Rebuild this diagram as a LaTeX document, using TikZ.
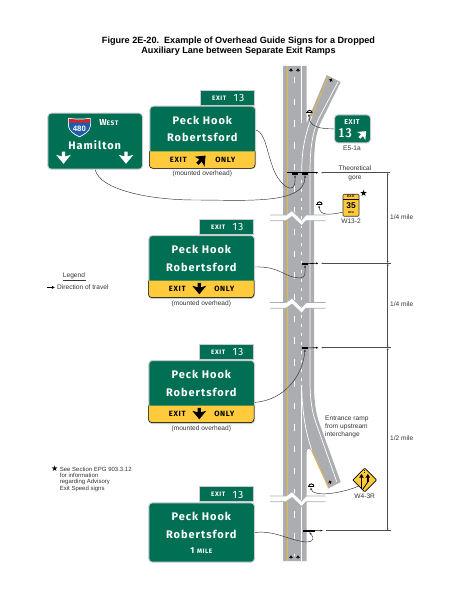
\documentclass[tikz,border=0pt]{standalone}
\usepackage{fontspec}
\setmainfont{Liberation Sans}
\newfontfamily\signfont[LetterSpace=9]{Fira Sans}
\newfontfamily\symfont{DejaVu Sans}
\usetikzlibrary{arrows.meta,shapes.geometric}
\definecolor{ExitGreen}{HTML}{006F54}
\definecolor{SignYellow}{HTML}{FFCB3D}
\definecolor{RoadGray}{HTML}{ABADB0}
\definecolor{RimGray}{HTML}{CBCCCD}
\definecolor{LaneYellow}{HTML}{E9B93C}
\definecolor{ShieldBlue}{HTML}{1C5CA8}
\definecolor{ShieldRed}{HTML}{D2232A}
\tikzset{
  greensign/.style={rectangle,rounded corners=3.5,fill=ExitGreen,draw=RimGray,line width=1,anchor=north west,inner sep=0},
  signtab/.style={rectangle,fill=ExitGreen,draw=RimGray,line width=1,inner sep=0},
  bigtext/.style={text=white,inner sep=0,font=\signfont\bfseries\fontsize{11}{11}\selectfont},
  smalltext/.style={text=white,inner sep=0,font=\signfont\bfseries\fontsize{6.4}{6.4}\selectfont},
  numtext/.style={text=white,inner sep=0,font=\signfont\fontsize{10.5}{10.5}\selectfont},
  bandtext/.style={text=black,inner sep=0,font=\signfont\bfseries\fontsize{7.6}{8}\selectfont},
  labeltext/.style={text=black!80,inner sep=0,font=\fontsize{6.6}{6.6}\selectfont},
  callout/.style={draw=black!80,line width=.45,-{Latex[length=2.6,width=2]}},
  leader/.style={draw=black!70,line width=.5},
  gantry/.style={rectangle,fill=black,inner sep=0,minimum width=6.5,minimum height=1.8},
  postbar/.style={rectangle,fill=black,inner sep=0,minimum width=6,minimum height=1},
  lanewhite/.style={draw=white,line width=.7},
  laneyellow/.style={draw=LaneYellow,line width=.8},
  pics/blockarrow/.style={code={
    \fill[pic actions] (-1.6,-6) -- (1.6,-6) -- (1.6,-1.5) -- (7,-3) -- (0,5.5) -- (-7,-3) -- (-1.6,-1.5) -- cycle;
  }},
  pics/roadbreak/.style={code={
    \fill[white] (270,0) -- (286,0) -- (292,-4.3) -- (301.7,5) -- (306,0) -- (325.6,0) -- (325.6,5.7) -- (306,5.7) -- (301.7,10.7) -- (292,1.5) -- (286,5.7) -- (270,5.7) -- cycle;
    \draw[RoadGray,line width=.7] (270,0) -- (286,0) -- (292,-4.3) -- (301.7,5) -- (306,0) -- (325.6,0);
    \draw[RoadGray,line width=.7] (270,5.7) -- (286,5.7) -- (292,1.5) -- (301.7,10.7) -- (306,5.7) -- (325.6,5.7);
  }},
}
\begin{document}
\begin{tikzpicture}[x=1pt,y=-1pt]
\useasboundingbox (0,0) rectangle (463,599);
\node[align=center,inner sep=0,font=\bfseries\fontsize{9.1}{10.2}\selectfont] (title) at (238.5,46.5)
  {Figure 2E-20.\ \ Example of Overhead Guide Signs for a Dropped\\Auxiliary Lane between Separate Exit Ramps};

% roadway
\fill[RoadGray] (283,66) -- (306.7,66) -- (306.7,123) -- (326.7,75) -- (340.7,82) -- (320,124)
  .. controls (315,136) and (314,150) .. (314,172) -- (314,385)
  .. controls (314,400) and (316,415) .. (320,425) -- (340.7,482) -- (328.3,488.5) -- (311,450)
  .. controls (310,448) and (306.7,448) .. (306.7,452) -- (306.7,561) -- (283,561) -- cycle;
\draw[laneyellow] (287.3,66) -- (287.3,561);
\draw[laneyellow] (328.3,76) -- (312,116);
\draw[laneyellow] (311.7,450) -- (328.3,486.7);
\draw[lanewhite] (301.3,66) -- (301.3,123);
\draw[lanewhite] (301.5,385) -- (301.5,561);
\draw[lanewhite] (312,116) .. controls (305,135) and (301.7,150) .. (301.7,172);
\draw[lanewhite] (301.7,385) .. controls (302,410) and (305,430) .. (311.7,450);
\draw[lanewhite] (338,82) -- (319,118) .. controls (312,133) and (310,150) .. (310,172) -- (310,380)
  .. controls (310,400) and (312,412) .. (316,423) -- (336.7,481.7);
\draw[white,line width=1.2,dash pattern=on 6.5pt off 15.2pt] (294.3,77) -- (294.3,556);
\draw[white,line width=.8,dash pattern=on 3pt off 6pt] (301.7,180) -- (301.7,385);
\foreach \x/\y/\ang in {291/70/180,298/70/180,331/80/149,330/482/199,291/557/180,298/557/180} {
  \pic[fill=black,scale=.3,rotate=\ang] at (\x,\y) {blockarrow};
}
\foreach \y in {215,302.5,496} {
  \pic at (0,\y) {roadbreak};
}

% overhead and post mounts
\node[gantry] (ohAa) at (295,173.8) {};
\node[gantry] (ohAb) at (305,173.8) {};
\node[gantry] (ohB) at (305,263.8) {};
\node[gantry] (ohC) at (305,348) {};
\node[gantry,minimum width=12] (ohD) at (309,531) {};
\node[postbar] (postE) at (309,113) {};
\node[postbar] (postW) at (319,204.5) {};
\node[postbar] (postM) at (310.7,486.5) {};
\foreach \p in {postE,postW,postM} {
  \draw[black,line width=.9] (\p.east) arc[start angle=0,end angle=-180,radius=2.6];
}

% leaders and distances
\coordinate (gapA) at (287,172.7);
\coordinate (gapAr) at (318.5,172.7);
\coordinate (gapB) at (318.5,263.3);
\coordinate (gapC) at (318.5,347.7);
\coordinate (gapD) at (323,530.5);
\coordinate (lineA) at (321,172.7);
\coordinate (lineB) at (321,263.3);
\coordinate (lineC) at (321,347.7);
\coordinate (lineD) at (326,530.7);
\coordinate (endA) at (390,172.7);
\coordinate (endB) at (390.7,263.3);
\coordinate (endC) at (390.7,347.7);
\coordinate (endD) at (390.7,530.7);
\coordinate (dimA) at (387.7,172.7);
\coordinate (dimB) at (387.7,263.3);
\coordinate (dimC) at (387.7,347.7);
\coordinate (dimD) at (387.7,530.7);
\draw[black,line width=.6,-{Latex[length=2.4,width=2]}] (gapA) -- (gapAr);
\draw[black,line width=.6,-{Latex[length=2.4,width=2]}] (ohB.west) -- (gapB);
\draw[black,line width=.6,-{Latex[length=2.4,width=2]}] (ohC.west) -- (gapC);
\draw[black,line width=.6,{Latex[length=2.4,width=2]}-{Latex[length=2.4,width=2]}] (ohD.west) -- (gapD);
\foreach \a/\b in {endA/lineA,endB/lineB,endC/lineC} {
  \draw[leader,-{Latex[length=2.2,width=1.8]}] (\a) -- (\b);
}
\draw[leader] (endD) -- (lineD);
\foreach \a/\b in {dimA/dimB,dimB/dimC,dimC/dimD} {
  \draw[leader,{Latex[length=2.2,width=1.8]}-{Latex[length=2.2,width=1.8]}] (\a) -- (\b);
}
\node[labeltext] (theory) at (355,168.5) {Theoretical};
\node[labeltext] (gore) at (355,178) {gore};
\node[labeltext,anchor=west] (milea) at (390,217) {1/4 mile};
\node[labeltext,anchor=west] (mileb) at (390,304) {1/4 mile};
\node[labeltext,anchor=west] (milec) at (390,438.3) {1/2 mile};
\node[labeltext,anchor=north west,align=left,font=\fontsize{6.6}{7.8}\selectfont] (ramp) at (325,416) {Entrance ramp\\from upstream\\interchange};

% guide signs
\node[greensign,minimum width=94.7,minimum height=56] (hamilton) at (47.3,112.7) {};
\fill[white] (68.2,117.8) .. controls (75,119) and (84,119) .. (90.6,117.8) -- (90.8,126) .. controls (90,132) and (84,135) .. (79.4,137.2) .. controls (75,135) and (69,132) .. (68,126) -- cycle;
\fill[ShieldBlue] (69,118.8) .. controls (75,120) and (84,120) .. (89.8,118.8) -- (90,126) .. controls (89,131.5) and (84,134) .. (79.4,136.2) .. controls (75,134) and (70,131.5) .. (68.8,126) -- cycle;
\fill[ShieldRed] (69,118.8) .. controls (75,120) and (84,120) .. (89.8,118.8) -- (89.9,122.6) -- (68.9,122.6) -- cycle;
\node[text=white,inner sep=0,font=\bfseries\fontsize{7.8}{8}\selectfont] (shield) at (79.4,128.8) {480};
\node[text=white,inner sep=0,font=\signfont\bfseries\fontsize{8.6}{9}\selectfont] (west) at (109,123) {W{\fontsize{6.6}{7}\selectfont EST}};
\node[bigtext] (hamlabel) at (94.7,145) {Hamilton};
\pic[fill=white,scale=1.05] at (63.5,158) {blockarrow};
\pic[fill=white,scale=1.05] at (126,158) {blockarrow};

\foreach \sgn/\x/\y/\h in {peckA/149.3/105.7/62.5,peckB/148.3/235/63,peckC/148.3/360/63,peckD/148.3/502.3/59.4} {
  \node[signtab,minimum width=54.3,minimum height=15,anchor=south east] (\sgn tab) at (\x+105.7,\y) {};
  \node[greensign,minimum width=105.7,minimum height=\h] (\sgn) at (\x,\y) {};
  \node[smalltext] (\sgn exit) at (\x+70,\y-7.7) {EXIT};
  \node[numtext] (\sgn num) at (\x+89.7,\y-7.7) {13};
  \node[bigtext] (\sgn one) at (\x+53,\y+14.3) {Peck Hook};
  \node[bigtext] (\sgn two) at (\x+53,\y+32) {Robertsford};
}
\foreach \sgn/\x/\y/\ang/\dx in {peckA/149.3/105.7/135/52.4,peckB/148.3/235/0/51,peckC/148.3/360/0/51} {
  \draw[fill=SignYellow,draw=black,line width=.5,rounded corners=3.5] (\x,\y+45.7) -- (\x,\y+62.6) -- (\x+105.7,\y+62.6) -- (\x+105.7,\y+45.7);
  \node[bandtext] (\sgn bandl) at (\x+29,\y+54) {EXIT};
  \node[bandtext] (\sgn bandr) at (\x+76,\y+54) {ONLY};
  \pic[fill=black,rotate=\ang] at (\x+\dx,\y+53.8) {blockarrow};
  \node[labeltext] (\sgn note) at (\x+53,\y+68.5) {(mounted overhead)};
}
\node[inner sep=0,text=white,font=\signfont\bfseries\fontsize{8.6}{8.6}\selectfont] (mile) at (201.3,551) {1 {\fontsize{6.4}{6.4}\selectfont MILE}};

% roadside signs
\node[greensign,minimum width=36,minimum height=28] (exitE) at (334,114.3) {};
\node[text=white,inner sep=0,font=\signfont\bfseries\fontsize{7}{7}\selectfont] (exitElab) at (352,122) {EXIT};
\node[text=white,inner sep=0,font=\sffamily\bfseries\fontsize{12.5}{12.5}\selectfont] (exitEnum) at (345,133.3) {13};
\pic[fill=white,rotate=135,scale=.82] at (363,134.3) {blockarrow};
\node[labeltext] (exitEcap) at (352,148) {E5-1a};

\node[rectangle,rounded corners=1,fill=SignYellow,draw=black!80,line width=.6,minimum width=16,minimum height=22,inner sep=0] (speed) at (351,205.2) {};
\draw[black,line width=.5] (343,199) -- (359,199);
\node[inner sep=0,font=\bfseries\fontsize{3.4}{3.4}\selectfont] (speedexit) at (351,196.6) {EXIT};
\node[inner sep=0,font=\bfseries\fontsize{8.4}{8.4}\selectfont] (speednum) at (351,205.5) {35};
\node[inner sep=0,font=\bfseries\fontsize{2.6}{2.6}\selectfont] (speedmph) at (351,212.8) {MPH};
\node[inner sep=0,font=\symfont\fontsize{9}{9}\selectfont] (star) at (363.6,193.3) {★};
\node[labeltext] (speedcap) at (351,221.5) {W13-2};

\node[diamond,fill=SignYellow,draw=black,line width=.7,minimum width=24,minimum height=24,inner sep=0,rounded corners=.7] (merge) at (364.7,480) {};
\draw[black,line width=1.5,-{Triangle[length=3.6,width=4.4]}] (361.5,489) -- (361.5,474);
\draw[black,line width=1.5,-{Triangle[length=3.6,width=4.4]}] (367.8,482) -- (367.8,474);
\draw[black,line width=.8] (367.8,482) -- (363,489);
\draw[black,line width=.5,dash pattern=on 1pt off 1pt] (364.7,470) -- (364.7,473);
\node[labeltext] (mergecap) at (364.7,496) {W4-3R};

% callouts
\path[callout] (hamilton.south) .. controls (100,190) and (150,200) .. (195,200) .. controls (245,200) and (305,205) .. (ohAb.south);
\path[callout] (peckA.8) .. controls (265,133) and (266,148) .. (272,165) .. controls (277,183) and (296,200) .. (ohAa.south);
\path[callout] (peckB.east) .. controls (280,266) and (285,278) .. (300,278) .. controls (306,278) and (305,272) .. (ohB.south);
\path[callout] (peckC.-11) .. controls (285,400) and (303,375) .. (ohC.south);
\path[callout] (peckD.east) .. controls (275,530) and (290,541) .. (307,542) .. controls (313,542) and (315,538) .. (ohD.south);
\path[callout] (exitE.west) .. controls (320,129) and (309,127) .. (postE.south);
\path[callout] (speed.220) .. controls (330,215) and (320,216) .. (postW.south);
\path[callout] (merge.south west) .. controls (340,494) and (313,497) .. (postM.south);

% legend and note
\node[labeltext] (legend) at (74,276) {Legend};
\draw[black!80,line width=.4] (legend.south west) ++(0,1.2) -- ++(23,0);
\coordinate (travelA) at (46.7,287.4);
\coordinate (travelB) at (55,287.4);
\draw[black,line width=.9,-{Latex[length=3.2,width=3.2]}] (travelA) -- (travelB);
\node[labeltext,anchor=west] (travel) at (57,287.4) {Direction of travel};
\node[inner sep=0,font=\symfont\fontsize{8}{8}\selectfont] (starnote) at (54.7,468.5) {★};
\node[labeltext,anchor=north west,align=left,font=\fontsize{6}{6.4}\selectfont] (note) at (59.7,466.5) {See Section EPG 903.3.12\\for information\\regarding Advisory\\Exit Speed signs};
\end{tikzpicture}
\end{document}
